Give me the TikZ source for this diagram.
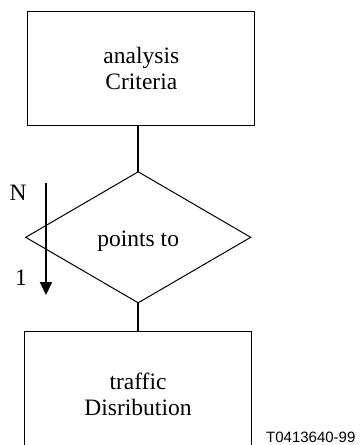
\documentclass[tikz,border=0pt]{standalone}
\usepackage{fontspec}
\setmainfont{Liberation Serif}
\newfontfamily\labelsans{Liberation Sans}
\usetikzlibrary{shapes.geometric,arrows.meta}
\begin{document}
\begin{tikzpicture}[x=1pt,y=-1pt,
 box/.style={draw, line width=1pt, rectangle, inner sep=0pt, outer sep=0pt, align=center, font=\fontsize{23.5}{26}\selectfont},
 decision/.style={draw, line width=1pt, diamond, inner sep=0pt, outer sep=0pt, minimum width=225pt, minimum height=131pt, font=\fontsize{23.5}{26}\selectfont, text height=21pt, text depth=2.2pt},
 link/.style={line width=2pt},
 lbl/.style={font=\fontsize{23.5}{26}\selectfont, inner sep=0pt, anchor=base}]
\useasboundingbox (0,0) rectangle (360,445);
\clip (0,0) rectangle (360,445);
\node[box, minimum width=227pt, minimum height=113.3pt] (crit) at (141.35,68.35) {analysis\\Criteria};
\node[decision] (dec) at (138.2,237.3) {points to};
\node[box, minimum width=227.4pt, minimum height=124.6pt] (dist) at (138,394) {traffic\\Disribution};
\draw[link] (crit.south -| dec.north) -- (dec.north);
\draw[link] (dec.south) -- (dist.north -| dec.south);
\coordinate (ntop) at (46,183);
\coordinate (nbot) at (46,295);
\draw[link, -{Triangle[width=12pt,length=13pt]}] (ntop) -- (nbot);
\node[lbl] (nlab) at (18,200) {N};
\node[lbl] (one) at (21,285) {1};
\node[font=\labelsans\fontsize{15}{18}\selectfont, anchor=base west, inner sep=0pt, text depth=0pt] (code) at (266,442.5) {T0413640-99};
\end{tikzpicture}
\end{document}
